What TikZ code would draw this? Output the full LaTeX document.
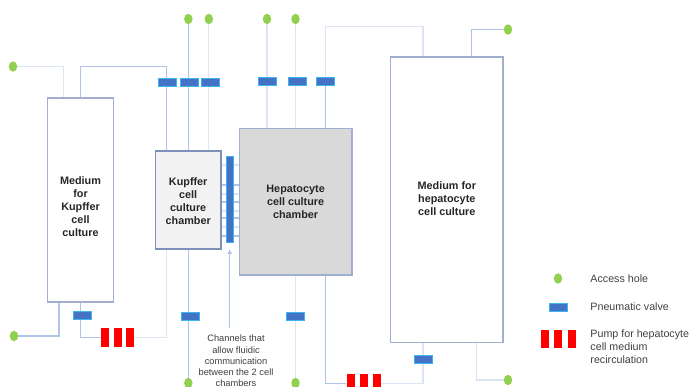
\documentclass[tikz,border=0pt]{standalone}
\usepackage{fontspec}
\setmainfont{Liberation Sans}
\usepackage{xcolor}
\usepackage{tikz}
\usetikzlibrary{calc,positioning,shapes.geometric,arrows.meta,backgrounds}
\definecolor{holegreen}{RGB}{146,208,80}
\definecolor{valvefill}{RGB}{68,114,196}
\definecolor{valverim}{RGB}{60,180,240}
\definecolor{pumpred}{RGB}{255,0,0}
\definecolor{pipeblue}{RGB}{176,196,232}
\definecolor{pipefaint}{RGB}{220,229,245}
\definecolor{boxrim}{RGB}{160,174,208}
\definecolor{chamberrim}{RGB}{125,145,185}
\definecolor{textdark}{RGB}{64,64,64}

\begin{document}
\begin{tikzpicture}[
  x=0.025cm, y=-0.025cm,
  hole/.style={ellipse, fill=holegreen, inner sep=0pt, minimum width=0.21cm, minimum height=0.26cm},
  valve/.style={rectangle, fill=valvefill, draw=valverim, line width=0.5pt, inner sep=0pt, minimum width=0.45cm, minimum height=0.2cm},
  pumpbar/.style={rectangle, fill=pumpred, inner sep=0pt, minimum width=0.2cm, minimum height=0.47cm},
  box/.style={rectangle, draw=boxrim, fill=white, line width=0.9pt, inner sep=0pt},
  chamber/.style={box, draw=chamberrim, line width=0.8pt},
  pipe/.style={draw=pipeblue, line width=0.8pt},
  faintpipe/.style={draw=pipefaint, line width=0.8pt},
  boxlabel/.style={font=\fontsize{7.7}{9.25}\selectfont\bfseries, text=black!85, align=center},
  note/.style={font=\fontsize{6.6}{8}\selectfont, text=textdark, align=center},
  legendtext/.style={font=\fontsize{7.6}{9.25}\selectfont, text=textdark, align=left, anchor=west}
]
\clip (0,0) rectangle (689,387);
% Media and chambers
\node[box, minimum width=1.65cm, minimum height=5.1cm] (mediumK) at (80.5,200) {};
\node[chamber, fill=black!5, minimum width=1.64cm, minimum height=2.45cm] (chamberK) at (188.2,200) {};
\node[chamber, fill=black!15, draw=boxrim, minimum width=2.82cm, minimum height=3.67cm] (chamberH) at (295.6,201.6) {};
\node[box, minimum width=2.81cm, minimum height=7.14cm] (mediumH) at (446.8,199.8) {};
\node[boxlabel] (labelmediumK) at (80.5,207) {Medium\\for\\Kupffer\\cell\\culture};
\node[boxlabel] (labelchamberK) at (188.2,201) {Kupffer\\cell\\culture\\chamber};
\node[boxlabel] (labelchamberH) at (295.6,202) {Hepatocyte\\cell culture\\chamber};
\node[boxlabel] (labelmediumH) at (446.8,199) {Medium for\\hepatocyte\\cell culture};
% Access holes
\foreach \n/\x/\y in {holeA/13/66.5, holeB/188.3/19, holeC/208.8/19, holeD/267/19, holeE/295.5/19,
    holeF/508/29.5, holeG/14/336, holeH/188.3/383, holeI/295.5/383, holeJ/508/380, holeL/558/278.5}
  \node[hole] (\n) at (\x,\y) {};
% Pneumatic valves
\foreach \n/\x/\y in {valveA/167.5/82, valveB/189.3/82, valveC/210.3/82, valveD/267/81, valveE/297/81,
    valveF/325.7/81, valveG/82/315, valveH/190/316, valveI/295.5/316, valveJ/423/359.5, valveL/558/307}
  \node[valve] (\n) at (\x,\y) {};
% Pumps
\foreach \x [count=\i] in {105,117.5,130}
  \node[pumpbar] (pumpK\i) at (\x,337.5) {};
\foreach \x [count=\i] in {350.7,364,377}
  \node[pumpbar] (pumpH\i) at (\x,383.5) {};
\foreach \x [count=\i] in {544.7,558,571.7}
  \node[pumpbar] (pumpL\i) at (\x,339) {};
% Bar across the channels, note below it
\node[valve, minimum width=0.185cm, minimum height=2.17cm] (bar) at (230,199.4) {};
\node[note] (channelnote) at (236,361) {Channels that\\allow fluidic\\communication\\between the 2 cell\\chambers};
\coordinate (arrowstart) at (229.7,328);
\coordinate (arrowend) at (229.7,249);
% Legend
\node[legendtext] (legendhole) at (585.5,278.5) {Access hole};
\node[legendtext] (legendvalve) at (585.5,306.5) {Pneumatic valve};
\node[legendtext] (legendpump) at (585.5,347) {Pump for hepatocyte\\cell medium\\recirculation};
% Pipes go behind all of it
\begin{scope}[on background layer]
  \coordinate (tapKa) at (63.5,98);
  \coordinate (tapKb) at (80.3,98);
  \coordinate (tapKc) at (59,302);
  \coordinate (tapKd) at (80.3,302);
  \coordinate (tapCh) at (166.3,151);
  \coordinate (tapChb) at (166.3,249);
  \coordinate (tapHa) at (423,57);
  \coordinate (tapHb) at (471.5,57);
  \coordinate (tapHc) at (423,343);
  \coordinate (tapHd) at (476.5,343);
  \draw[faintpipe] (holeA) -| (tapKa);
  \draw[pipe] (tapKb) |- ($(tapCh)+(0,-84.3)$) -- (tapCh);
  \draw[pipe] (holeB) -- (holeB |- chamberK.north);
  \draw[faintpipe] (holeC) -- (holeC |- chamberK.north);
  \draw[faintpipe] (holeD) -- (holeD |- chamberH.north);
  \draw[faintpipe] (holeE) -- (holeE |- chamberH.north);
  \draw[pipe] (valveF) -- (valveF |- chamberH.north);
  \draw[faintpipe] (valveF) |- ($(tapHa)+(0,-30.5)$) -- (tapHa);
  \draw[pipe] (tapHb) |- (holeF);
  \draw[pipe] (tapKc) |- (holeG);
  \draw[pipe] (tapKd) |- (pumpK1);
  \draw[faintpipe] (pumpK3) -| (tapChb);
  \draw[pipe] (holeH) -- (holeH |- chamberK.south);
  \draw[faintpipe] (holeI) -- (holeI |- chamberH.south);
  \draw[pipe] (valveF |- chamberH.south) |- (pumpH1);
  \draw[faintpipe] (pumpH3) -| (tapHc);
  \draw[faintpipe] (tapHd) |- (holeJ);
  % Channels between the chambers
  \foreach \y in {185,202,218,236}
    \draw[pipe] (221,\y) -- (239,\y);
  \foreach \y in {165,194,211,227}
    \draw[faintpipe] (221,\y) -- (239,\y);
\end{scope}
\draw[pipe, -{Latex[length=3.5pt,width=3.5pt]}] (arrowstart) -- (arrowend);
\end{tikzpicture}
\end{document}
